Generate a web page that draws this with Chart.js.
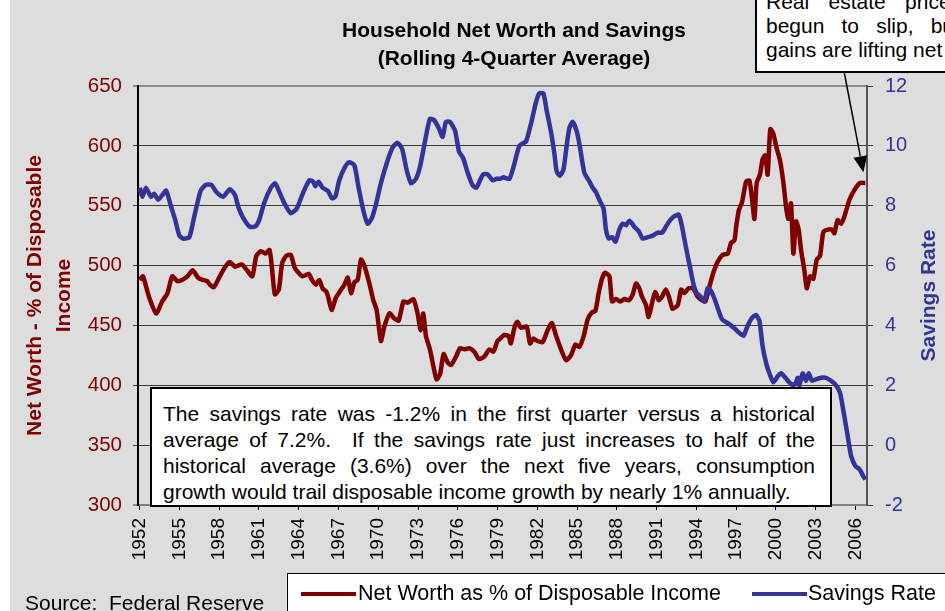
<!DOCTYPE html>
<html>
<head>
<meta charset="utf-8">
<script src="https://cdn.jsdelivr.net/npm/chart.js@4.4.1/dist/chart.umd.min.js"></script>
<style>
html, body { margin: 0; padding: 0; background: #fff; }
body { width: 945px; height: 611px; position: relative; overflow: hidden; font-family: "Liberation Sans", Arial, sans-serif; color: #000; }
#bg { position: absolute; left: 10px; top: 0; right: 0; bottom: 0; background: #dddddd; }
#chartBox { position: absolute; left: 0; top: 0; width: 945px; height: 611px; }
.title { position: absolute; left: 264px; width: 500px; top: 16px; text-align: center; font-weight: bold; font-size: 21px; line-height: 28px; }
.note { position: absolute; left: 150px; top: 387px; width: 652px; height: 104px; padding: 12px 15px 0 11px; border: 2px solid #000; background: #fff; font-size: 21px; line-height: 26px; }
.note div, .callout div { text-align: justify; text-align-last: justify; white-space: nowrap; }
.note div.last, .callout div.last { text-align: left; text-align-last: left; }
.callout { position: absolute; left: 755px; bottom: 538px; width: 260px; padding: 0 10px 9px 9px; border: 2px solid #000; background: #fff; font-size: 21px; line-height: 24px; }
.source { position: absolute; left: 25px; top: 591px; font-size: 21px; line-height: 24px; }
.legend { position: absolute; left: 287px; top: 573px; width: 700px; height: 60px; border: 1.5px solid #000; background: #fff; font-size: 21.5px; }
.legend .swatch { position: absolute; top: 18px; width: 55px; height: 4px; }
.legend .label { position: absolute; top: 6px; line-height: 26px; white-space: nowrap; }
</style>
</head>
<body>
<div id="bg"></div>
<div id="chartBox"><canvas id="netWorthChart" width="945" height="611"></canvas></div>

<div class="title">Household Net Worth and Savings<br>(Rolling 4-Quarter Average)</div>

<div class="callout">
  <div>Real estate prices have</div>
  <div>begun to slip, but stock</div>
  <div class="last">gains are lifting net worth.</div>
</div>

<div class="note">
  <div>The savings rate was -1.2% in the first quarter versus a historical</div>
  <div>average of 7.2%.&nbsp; If the savings rate just increases to half of the</div>
  <div>historical average (3.6%) over the next five years, consumption</div>
  <div class="last">growth would trail disposable income growth by nearly 1% annually.</div>
</div>

<div class="source">Source:&nbsp; Federal Reserve</div>

<div class="legend">
  <div class="swatch" style="left:13px;background:#800000;"></div>
  <div class="label" style="left:70px;">Net Worth as % of Disposable Income</div>
  <div class="swatch" style="left:464px;background:#333399;"></div>
  <div class="label" style="left:520px;">Savings Rate</div>
</div>

<script>
// Net worth as % of disposable income (left axis)
const nwYears = [
  1952.0, 1952.25, 1952.7, 1953.25, 1953.7, 1954.1, 1954.45, 1954.85, 1955.2, 1955.6,
  1956.0, 1956.4, 1956.75, 1957.1, 1957.3, 1957.6, 1958.0, 1958.4, 1958.8, 1959.2,
  1959.7, 1960.1, 1960.5, 1960.8, 1961.15, 1961.5, 1961.8, 1962.0, 1962.2, 1962.5,
  1962.75, 1963.05, 1963.4, 1963.67, 1963.9, 1964.3, 1964.75, 1965.0, 1965.3, 1965.55,
  1965.8, 1966.1, 1966.35, 1966.5, 1966.8, 1967.2, 1967.45, 1967.7, 1967.95, 1968.2,
  1968.45, 1968.7, 1968.95, 1969.33, 1969.63, 1969.88, 1970.2, 1970.46, 1970.84, 1971.2,
  1971.54, 1971.9, 1972.22, 1972.65, 1972.97, 1973.2, 1973.4, 1973.6, 1973.9, 1974.16,
  1974.4, 1974.66, 1974.93, 1975.24, 1975.5, 1975.87, 1976.17, 1976.5, 1976.87, 1977.25,
  1977.6, 1978.0, 1978.38, 1978.68, 1979.0, 1979.2, 1979.5, 1979.84, 1980.0, 1980.27,
  1980.5, 1980.77, 1981.2, 1981.45, 1981.7, 1982.0, 1982.4, 1982.78, 1983.1, 1983.4,
  1983.79, 1984.17, 1984.54, 1984.87, 1985.17, 1985.5, 1985.8, 1986.13, 1986.38, 1986.63,
  1986.88, 1987.13, 1987.44, 1987.64, 1987.94, 1988.24, 1988.57, 1988.9, 1989.2, 1989.45,
  1989.7, 1989.9, 1990.2, 1990.4, 1990.66, 1990.9, 1991.16, 1991.41, 1991.7, 1991.96,
  1992.2, 1992.6, 1992.85, 1993.1, 1993.42, 1993.77, 1994.1, 1994.43, 1994.68, 1994.98,
  1995.28, 1995.6, 1995.99, 1996.37, 1996.62, 1996.87, 1997.0, 1997.2, 1997.45, 1997.75,
  1998.0, 1998.2, 1998.38, 1998.55, 1998.8, 1999.0, 1999.2, 1999.38, 1999.58, 1999.81,
  2000.06, 2000.31, 2000.57, 2000.77, 2000.94, 2001.14, 2001.32, 2001.52, 2001.72, 2001.9,
  2002.15, 2002.33, 2002.58, 2002.83, 2003.08, 2003.33, 2003.58, 2003.91, 2004.24, 2004.41,
  2004.66, 2004.92, 2005.17, 2005.55, 2005.92, 2006.35, 2006.75
];
const nwValues = [
  488, 491, 474, 460, 470, 477, 491, 487, 488, 491,
  496, 490, 488, 487, 484, 482, 490, 498, 503, 499,
  501, 496, 491, 508, 512, 510, 513, 496, 476, 480,
  502, 508, 509, 499, 495, 491, 493, 488, 484, 488,
  481, 478, 468, 463, 473, 480, 484, 490, 477, 486,
  488, 505, 500, 485, 471, 463, 437, 449, 460, 456,
  454, 470, 469, 472, 460, 446, 460, 441, 430, 416,
  405, 409, 426, 419, 417, 424, 431, 430, 431, 428,
  422, 424, 430, 428, 437, 439, 442, 441, 435, 448,
  453, 448, 449, 435, 439, 437, 436, 446, 452, 442,
  430, 421, 425, 434, 432, 441, 455, 461, 462, 477,
  489, 494, 491, 470, 472, 470, 472, 471, 476, 485,
  481, 474, 467, 457, 469, 478, 471, 474, 480, 473,
  464, 467, 480, 477, 481, 481, 474, 471, 470, 482,
  494, 503, 509, 510, 519, 521, 532, 546, 553, 570,
  571, 556, 539, 569, 576, 589, 592, 576, 614, 610,
  598, 588, 569, 549, 539, 552, 510, 537, 530, 513,
  496, 481, 491, 489, 505, 508, 528, 530, 530, 527,
  538, 535, 541, 555, 563, 569, 569
];

// Personal savings rate, % (right axis)
const srYears = [
  1952.0, 1952.2, 1952.47, 1952.85, 1953.1, 1953.4, 1953.7, 1954.0, 1954.35, 1954.7,
  1955.0, 1955.3, 1955.75, 1956.1, 1956.6, 1957.0, 1957.4, 1957.8, 1958.3, 1958.8,
  1959.2, 1959.45, 1959.8, 1960.3, 1960.7, 1961.0, 1961.4, 1961.9, 1962.23, 1962.5,
  1962.9, 1963.4, 1963.84, 1964.3, 1964.8, 1965.1, 1965.25, 1965.5, 1965.8, 1966.2,
  1966.5, 1966.76, 1967.06, 1967.44, 1967.77, 1968.2, 1968.52, 1968.87, 1969.2, 1969.53,
  1969.83, 1970.2, 1970.7, 1971.09, 1971.46, 1971.8, 1972.14, 1972.47, 1972.85, 1973.15,
  1973.55, 1973.9, 1974.23, 1974.56, 1974.86, 1975.1, 1975.41, 1975.8, 1976.1, 1976.4,
  1976.75, 1977.1, 1977.4, 1977.68, 1977.93, 1978.26, 1978.63, 1978.93, 1979.2, 1979.44,
  1979.9, 1980.27, 1980.65, 1981.15, 1981.53, 1981.9, 1982.15, 1982.46, 1982.7, 1983.04,
  1983.3, 1983.46, 1983.7, 1983.97, 1984.2, 1984.42, 1984.67, 1985.0, 1985.22, 1985.55,
  1985.88, 1986.18, 1986.43, 1986.73, 1987.0, 1987.18, 1987.4, 1987.64, 1987.9, 1988.19,
  1988.44, 1988.7, 1988.95, 1989.32, 1989.65, 1989.95, 1990.33, 1990.7, 1991.08, 1991.41,
  1991.7, 1992.0, 1992.34, 1992.67, 1992.92, 1993.22, 1993.52, 1993.77, 1994.0, 1994.35,
  1994.6, 1994.86, 1995.1, 1995.36, 1995.6, 1995.94, 1996.29, 1996.62, 1997.0, 1997.25,
  1997.55, 1997.88, 1998.2, 1998.5, 1998.76, 1999.0, 1999.26, 1999.51, 1999.81, 2000.14,
  2000.39, 2000.72, 2001.02, 2001.32, 2001.52, 2001.65, 2001.77, 2002.02, 2002.27, 2002.48,
  2002.73, 2003.03, 2003.41, 2003.78, 2004.16, 2004.54, 2004.84, 2005.17, 2005.42, 2005.67,
  2006.0, 2006.3, 2006.55, 2006.75
];
const srValues = [
  8.6, 8.3, 8.6, 8.3, 8.4, 8.2, 8.35, 8.5, 8.0, 7.5,
  7.0, 6.9, 6.95, 7.6, 8.5, 8.7, 8.7, 8.45, 8.3, 8.55,
  8.35, 7.95, 7.6, 7.3, 7.3, 7.5, 8.1, 8.6, 8.75, 8.5,
  8.1, 7.75, 7.9, 8.4, 8.85, 8.8, 8.65, 8.8, 8.6, 8.5,
  8.25, 8.3, 8.85, 9.25, 9.45, 9.35, 8.6, 7.85, 7.4, 7.6,
  8.05, 8.75, 9.5, 9.95, 10.1, 9.9, 9.2, 8.75, 8.9, 9.3,
  10.2, 10.9, 10.85, 10.6, 10.3, 10.8, 10.8, 10.5, 9.8, 9.6,
  9.1, 8.7, 8.6, 8.85, 9.05, 9.05, 8.85, 8.9, 8.9, 8.95,
  8.9, 9.4, 10.0, 10.15, 10.75, 11.45, 11.75, 11.75, 11.2, 10.45,
  9.7, 9.15, 9.0, 9.2, 9.95, 10.6, 10.8, 10.45, 9.95, 9.1,
  8.85, 8.6, 8.45, 8.15, 7.9, 7.2, 6.9, 6.95, 6.8, 7.2,
  7.4, 7.35, 7.5, 7.3, 7.15, 6.9, 6.95, 7.0, 7.1, 7.1,
  7.3, 7.5, 7.65, 7.7, 7.3, 6.6, 5.95, 5.4, 5.1, 4.95,
  4.8, 5.25, 5.15, 4.9, 4.6, 4.2, 4.1, 4.0, 3.85, 3.75,
  3.65, 4.0, 4.25, 4.35, 4.15, 3.3, 2.75, 2.4, 2.1, 2.3,
  2.4, 2.25, 2.1, 2.0, 2.1, 2.25, 2.0, 2.4, 2.15, 2.4,
  2.15, 2.2, 2.25, 2.25, 2.15, 2.0, 1.75, 0.95, 0.3, -0.35,
  -0.7, -0.8, -1.0, -1.15
];

const tickYears = [1952, 1955, 1958, 1961, 1964, 1967, 1970, 1973, 1976, 1979,
                   1982, 1985, 1988, 1991, 1994, 1997, 2000, 2003, 2006];

Chart.defaults.font.family = "'Liberation Sans', Arial, sans-serif";

function toPoints(xs, ys) {
    return xs.map((x, i) => ({ x: x, y: ys[i] }));
}

// Arrow from the callout box down to the end of the net worth line,
// plus the right axis title (reads bottom to top, as in the original)
const extrasPlugin = {
    id: "extrasPlugin",
    afterDatasetsDraw(chart) {
        let ctx = chart.ctx;
        let tipX = chart.scales.x.getPixelForValue(2006.6);
        let tipY = chart.scales.y.getPixelForValue(578);
        let startX = tipX - 19;
        let startY = 73;
        let ang = Math.atan2(tipY - startY, tipX - startX);
        let len = 16, half = 7;
        let bx = tipX - len * Math.cos(ang), by = tipY - len * Math.sin(ang);
        ctx.save();
        ctx.strokeStyle = "#000";
        ctx.fillStyle = "#000";
        ctx.lineWidth = 1.5;
        ctx.beginPath();
        ctx.moveTo(startX, startY);
        ctx.lineTo(bx, by);
        ctx.stroke();
        ctx.beginPath();
        ctx.moveTo(tipX, tipY);
        ctx.lineTo(bx + half * Math.sin(ang), by - half * Math.cos(ang));
        ctx.lineTo(bx - half * Math.sin(ang), by + half * Math.cos(ang));
        ctx.closePath();
        ctx.fill();
        ctx.restore();
    },
    afterDraw(chart) {
        let ctx = chart.ctx;
        let s = chart.scales.y1;
        ctx.save();
        ctx.translate(s.right - 16, (s.top + s.bottom) / 2);
        ctx.rotate(-Math.PI / 2);
        ctx.fillStyle = "#333399";
        ctx.font = "bold 21px 'Liberation Sans', Arial, sans-serif";
        ctx.textAlign = "center";
        ctx.textBaseline = "middle";
        ctx.fillText("Savings Rate", 0, 0);
        ctx.restore();
    }
};

let chartCanvas = document.getElementById("netWorthChart");
let netWorthChart = new Chart(chartCanvas, {
    type: "line",
    data: {
        datasets: [{
            label: "Net Worth as % of Disposable Income",
            data: toPoints(nwYears, nwValues),
            borderColor: "#800000",
            borderWidth: 4.5,
            pointRadius: 0,
            tension: 0.2,
            yAxisID: "y",
            order: 1
        }, {
            label: "Savings Rate",
            data: toPoints(srYears, srValues),
            borderColor: "#333399",
            borderWidth: 4.5,
            pointRadius: 0,
            tension: 0.2,
            yAxisID: "y1",
            order: 0
        }]
    },
    options: {
        responsive: false,
        animation: false,
        layout: { padding: { left: 10, top: 86, right: 0, bottom: 0 } },
        plugins: {
            legend: { display: false },
            tooltip: { enabled: false },
            title: { display: false }
        },
        scales: {
            x: {
                type: "linear",
                min: 1951.875,
                max: 2006.875,
                afterBuildTicks: function (scale) {
                    scale.ticks = tickYears.map(v => ({ value: v }));
                },
                afterFit: function (scale) { scale.height = 106; },
                ticks: {
                    autoSkip: false,
                    minRotation: 90,
                    maxRotation: 90,
                    padding: 8,
                    color: "#000",
                    font: { size: 19 },
                    callback: v => String(v)
                },
                grid: { drawOnChartArea: false, tickLength: 5, color: "#000" },
                border: { color: "#808080", width: 2 }
            },
            y: {
                position: "left",
                min: 300,
                max: 650,
                afterFit: function (scale) { scale.width = 128; },
                ticks: { stepSize: 50, padding: 11, color: "#800000", font: { size: 20.5 } },
                grid: {
                    tickLength: 5,
                    color: c => (c.tick && (c.tick.value === 650 || c.tick.value === 300)) ? "#8a8a8a" : "#3a3a3a",
                    lineWidth: c => (c.tick && (c.tick.value === 650 || c.tick.value === 300)) ? 2 : 1
                },
                border: { color: "#000", width: 2 },
                title: {
                    display: true,
                    text: ["Net Worth - % of Disposable", "Income"],
                    color: "#800000",
                    font: { size: 21, weight: "bold", lineHeight: 1.36 },
                    padding: { top: 11, bottom: 0 }
                }
            },
            y1: {
                position: "right",
                min: -2,
                max: 12,
                afterFit: function (scale) { scale.width = 78; },
                ticks: { stepSize: 2, padding: 12, color: "#333399", font: { size: 20 } },
                grid: { drawOnChartArea: false, tickLength: 6, color: "#3a3a3a" },
                border: { color: "#555", width: 2 },
                title: { display: false }
            }
        }
    },
    plugins: [extrasPlugin]
});
</script>
</body>
</html>
